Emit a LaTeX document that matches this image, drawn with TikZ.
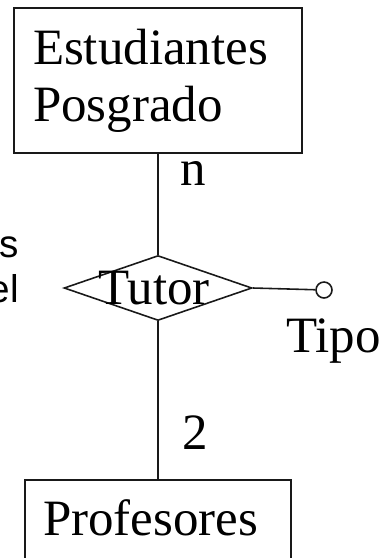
\documentclass[tikz,border=0pt]{standalone}
\usepackage{fontspec}
\setmainfont{Liberation Serif}
\newfontfamily\sidefont{Liberation Sans}
\usetikzlibrary{shapes.geometric, positioning}
\definecolor{colBorder}{RGB}{25,25,25}
\tikzset{
    entity/.style={rectangle, draw=colBorder, line width=0.9pt, align=left,
        font=\fontsize{29}{32.4}\selectfont},
    relation/.style={diamond, draw=colBorder, line width=0.9pt,
        minimum width=3.76cm, minimum height=1.3cm, inner sep=0pt},
    attrib/.style={circle, draw=colBorder, line width=0.9pt, minimum size=0.32cm, inner sep=0pt},
    card/.style={inner sep=0pt, anchor=base, font=\fontsize{29}{32.4}\selectfont},
    sidetext/.style={inner sep=0pt, anchor=base east, font=\sidefont\fontsize{22}{26}\selectfont},
    link/.style={draw=colBorder, line width=0.9pt}
}

\begin{document}
\begin{tikzpicture}[x=0.02cm, y=-0.02cm]

    \useasboundingbox (0,0) rectangle (383,558);
    \clip (0,0) rectangle (383,558);

    % entities
    \node[entity, text width=5.0cm, inner xsep=0.38cm, minimum width=5.76cm, minimum height=2.9cm] (estud) at (158,80.5) {Estudiantes\\Posgrado};
    \node[entity, anchor=north, text width=4.6cm, inner xsep=0.36cm, inner ysep=0.4cm, text depth=1.2cm] (prof) at (158,479) {Profesores};

    % relationship
    \node[relation] (tutor) at (158,288) {};
    \node[card, anchor=center] (tutortxt) at (154,288) {Tutor};

    % attribute
    \node[attrib] (tipo) at (324,290) {};
    \node[card] (tipolbl) at (333.5,352) {Tipo};

    \node[card] (cardn) at (193.5,185) {n};
    \node[card] (card2) at (195,449) {2};

    \node[sidetext] (sidea) at (19,257) {es};
    \node[sidetext] (sideb) at (19,302) {el};

    \draw[link] (estud) -- (tutor);
    \draw[link] (tutor) -- (prof);
    \draw[link] (tutor.east) -- (tipo);

\end{tikzpicture}
\end{document}
